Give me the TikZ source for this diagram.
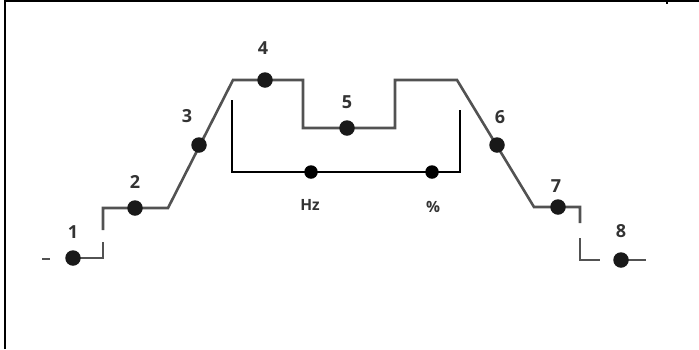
\documentclass[tikz,border=0pt]{standalone}
\usepackage{fontspec}
\setmainfont{Open Sans}
\begin{document}
\begin{tikzpicture}[x=1pt,y=-1pt,
  curve/.style={draw=black!68,line width=2.6pt,line join=miter},
  brk/.style={draw=black,line width=1.3pt},
  smalldot/.style={circle,fill=black,inner sep=0pt,minimum size=13.5pt},
  dotmark/.style={circle,fill=black!90,inner sep=0pt,minimum size=15.5pt},
  num/.style={font=\bfseries\fontsize{18}{18}\selectfont,text=black!80,inner sep=0pt},
  unit/.style={font=\bfseries\fontsize{15.5}{15.5}\selectfont,text=black!80,inner sep=0pt},
  frame/.style={draw=black,line width=2.4pt}]
\useasboundingbox (0,0) rectangle (699,349);
% frame
\draw[frame] (5,349) -- (5,1.2) -- (699,1.2);
\draw[black,line width=1.2pt] (667,0) -- (667,4);
% corners of the curve
\coordinate (s0) at (42,259);
\coordinate (s1) at (50,259);
\coordinate (c1) at (103,258);
\coordinate (c1a) at (103,242);
\coordinate (c1b) at (103,230);
\coordinate (c2) at (103,208);
\coordinate (c3) at (168,208);
\coordinate (c4) at (233,80);
\coordinate (c5) at (303,80);
\coordinate (c6) at (303,128);
\coordinate (c7) at (395,128);
\coordinate (c8) at (395,80);
\coordinate (c9) at (457,80);
\coordinate (c10) at (534,207);
\coordinate (c11) at (580,207);
\coordinate (c11a) at (580,223);
\coordinate (c11b) at (580,238);
\coordinate (c12) at (580,260);
\coordinate (c13) at (600,260);
\coordinate (e8) at (646,260);
% curve
\draw[curve] (s0) -- (s1);
\draw[curve] (73,258) -- (c1) -- (c1a);
\draw[curve] (c1b) -- (c2) -- (c3) -- (c4) -- (c5) -- (c6) -- (c7) -- (c8) -- (c9) -- (c10) -- (c11) -- (c11a);
\draw[curve] (c11b) -- (c12) -- (c13);
\draw[curve] (621,260) -- (e8);
% dots on the curve
\node[dotmark] (d1) at (73,258) {};
\node[dotmark] (d2) at (135,208) {};
\node[dotmark] (d3) at (199,145) {};
\node[dotmark] (d4) at (265,80) {};
\node[dotmark] (d5) at (347,128) {};
\node[dotmark] (d6) at (497,145) {};
\node[dotmark] (d7) at (558,207) {};
\node[dotmark] (d8) at (621,260) {};
% labels
\node[num] (l1) at (73,232) {1};
\node[num] (l2) at (135,182) {2};
\node[num] (l3) at (187,116) {3};
\node[num] (l4) at (263,48) {4};
\node[num] (l5) at (347,102) {5};
\node[num] (l6) at (500,117) {6};
\node[num] (l7) at (556,186) {7};
\node[num] (l8) at (621,231) {8};
% bracket
\coordinate (b0) at (232,100);
\coordinate (b1) at (232,172);
\coordinate (b2) at (460,172);
\coordinate (b3) at (460,110);
\draw[brk] (b0) -- (b1) -- (b2) -- (b3);
\node[smalldot] (hz) at (311,172) {};
\node[smalldot] (pc) at (432,172) {};
\node[unit] (lhz) at (310,205) {Hz};
\node[unit] (lpc) at (433,207) {\%};
\end{tikzpicture}
\end{document}
